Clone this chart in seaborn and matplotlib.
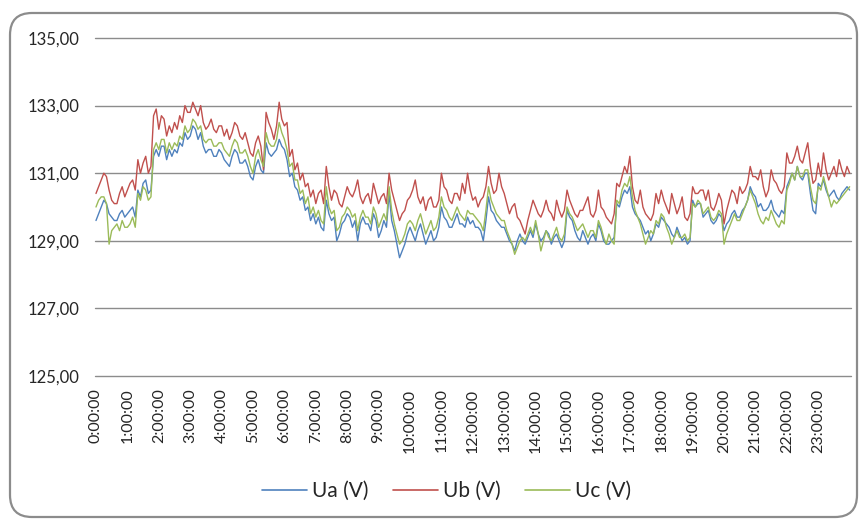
import matplotlib
matplotlib.use("Agg")
import matplotlib.pyplot as plt
from matplotlib.patches import FancyBboxPatch
from matplotlib.lines import Line2D
from matplotlib.transforms import IdentityTransform
import pandas as pd
import seaborn as sns

# Voltage readings every 5 minutes over one day (last value at 24:00)
hour_labels = [f"{h}:00:00" for h in range(24)]

ua = [
    129.6, 129.8, 130.0, 130.2, 130.1, 129.8, 129.7, 129.6, 129.6, 129.8, 129.9, 129.7,
    129.8, 129.9, 130.0, 129.7, 130.5, 130.3, 130.7, 130.8, 130.4, 130.5, 131.5, 131.7,
    131.5, 131.8, 131.8, 131.4, 131.7, 131.5, 131.7, 131.6, 131.9, 131.8, 132.2, 132.0,
    132.1, 132.4, 132.3, 132.0, 132.2, 131.8, 131.6, 131.7, 131.7, 131.5, 131.5, 131.7,
    131.6, 131.4, 131.3, 131.2, 131.5, 131.7, 131.6, 131.3, 131.3, 131.4, 131.2, 130.9,
    130.8, 131.2, 131.4, 131.1, 131.0, 131.9, 131.6, 131.5, 131.6, 131.7, 132.0, 131.8,
    131.7, 131.4, 130.9, 131.0, 130.6, 130.5, 130.2, 130.3, 129.9, 130.0, 129.6, 129.8,
    129.5, 129.7, 129.4, 129.3, 130.2, 129.8, 129.6, 129.7, 129.0, 129.2, 129.5, 129.6,
    129.8, 129.7, 129.4, 129.6, 129.0, 129.5, 129.7, 129.5, 129.5, 129.3, 129.8, 129.6,
    129.1, 129.3, 129.6, 129.4, 130.4, 129.6, 129.3, 128.9, 128.5, 128.7, 128.9, 129.2,
    129.4, 129.2, 129.0, 129.3, 129.5, 129.2, 128.9, 129.1, 129.3, 129.0, 129.1, 129.4,
    130.0, 129.7, 129.6, 129.4, 129.4, 129.6, 129.8, 129.5, 129.5, 129.4, 129.7, 129.5,
    129.6, 129.4, 129.4, 129.3, 129.0, 129.6, 130.3, 129.9, 129.8, 129.6, 129.5, 129.4,
    129.4, 129.2, 129.0, 128.9, 128.7, 129.0, 129.2, 129.0, 128.9, 129.1, 129.3, 129.1,
    129.5, 129.2, 129.0, 129.1, 129.3, 129.2, 128.9, 129.1, 129.2, 129.0, 128.8, 129.0,
    129.9, 129.7, 129.6, 129.3, 129.1, 129.0, 129.3, 129.1, 128.9, 129.1, 129.2, 129.0,
    129.5, 129.3, 129.0, 128.9, 128.9, 129.0, 129.1, 130.1, 130.0, 130.3, 130.5, 130.4,
    130.6, 130.0, 129.8, 129.7, 129.6, 129.4, 129.2, 129.3, 129.0, 129.2, 129.5, 129.4,
    129.7, 129.6, 129.5, 129.4, 129.2, 129.1, 129.4, 129.2, 129.0, 129.1, 128.9, 129.0,
    130.2, 130.0, 130.1, 130.1, 129.7, 129.8, 129.9, 129.6, 129.5, 129.6, 129.8, 129.7,
    129.3, 129.5, 129.6, 129.8, 129.9, 129.7, 129.7, 129.9, 130.0, 130.2, 130.6, 130.4,
    130.3, 130.0, 130.1, 129.9, 129.9, 130.0, 130.2, 129.9, 129.8, 129.7, 129.9, 129.8,
    130.6, 130.8, 131.0, 130.8, 131.2, 130.9, 130.8, 131.0, 131.0, 130.4, 129.9, 129.8,
    130.7, 130.6, 130.8, 130.5, 130.3, 130.4, 130.5, 130.3, 130.2, 130.4, 130.5, 130.6,
    130.5,
]

ub = [
    130.4, 130.6, 130.8, 131.0, 130.9, 130.5, 130.2, 130.1, 130.1, 130.4, 130.6, 130.3,
    130.5, 130.7, 130.8, 130.5, 131.4, 131.0, 131.3, 131.5, 131.0, 131.2, 132.7, 132.9,
    132.3, 132.7, 132.6, 132.1, 132.4, 132.2, 132.5, 132.3, 132.7, 132.5, 133.0, 132.8,
    132.8, 133.1, 132.9, 132.7, 133.0, 132.5, 132.3, 132.4, 132.6, 132.3, 132.2, 132.4,
    132.4, 132.1, 132.3, 132.0, 132.2, 132.5, 132.4, 132.1, 132.0, 132.2, 131.9, 131.6,
    131.5, 131.9, 132.1, 131.8, 131.1, 132.8, 132.5, 132.3, 132.0, 132.4, 133.1, 132.6,
    132.4, 132.5, 131.5, 131.7, 131.1, 131.3, 130.8, 131.0, 130.6, 130.7, 130.3, 130.5,
    130.1, 130.4, 130.5, 130.1, 131.2, 130.6, 130.2, 130.5, 130.4, 130.1, 130.0, 130.3,
    130.6, 130.4, 130.3, 130.5, 130.8, 130.3, 130.1, 130.3, 130.4, 130.1, 130.7, 130.4,
    130.1, 130.3, 130.4, 130.1, 131.0, 130.5, 130.2, 129.9, 129.6, 129.8, 129.9, 130.2,
    130.3, 130.5, 130.8, 130.3, 130.1, 130.3, 129.9, 130.2, 130.3, 130.0, 130.0, 130.2,
    131.0, 130.6, 130.5, 130.2, 130.1, 130.4, 130.4, 130.2, 130.7, 130.4, 131.0, 130.5,
    130.2, 130.3, 130.0, 130.2, 130.3, 130.6, 131.2, 130.7, 130.4, 130.5, 131.0, 130.6,
    130.4, 130.1, 129.8, 130.0, 130.1, 129.7, 129.6, 129.4, 129.2, 129.6, 129.9, 130.2,
    130.0, 129.8, 129.7, 129.9, 130.2, 129.9, 129.8, 129.6, 130.2, 129.9, 129.7, 129.9,
    130.5, 130.2, 130.0, 129.8, 129.7, 129.9, 129.9, 130.1, 130.3, 129.8, 129.7, 129.9,
    130.5, 130.0, 129.9, 129.7, 129.6, 129.5, 129.8, 130.7, 130.6, 130.9, 131.2, 131.0,
    131.5, 130.6, 130.2, 130.1, 130.5, 130.0, 129.8, 129.7, 129.6, 129.8, 130.4, 130.1,
    130.5, 130.2, 130.0, 129.8, 130.4, 130.1, 129.8, 130.0, 130.3, 129.7, 129.6, 129.8,
    130.6, 130.4, 130.4, 130.5, 130.5, 130.2, 130.5, 130.0, 129.9, 130.1, 130.4, 130.2,
    129.5, 129.9, 130.2, 130.5, 130.4, 130.1, 130.6, 130.4, 130.5, 130.7, 131.2, 130.9,
    130.9, 130.8, 131.1, 130.6, 130.3, 130.5, 131.1, 130.8, 130.7, 130.5, 130.4, 130.6,
    131.6, 131.3, 131.3, 131.5, 131.8, 131.4, 131.3, 131.6, 131.9, 131.2, 130.7, 130.8,
    131.3, 130.9, 131.6, 131.1, 130.8, 131.0, 131.2, 130.9, 131.4, 131.1, 130.9, 131.2,
    131.0,
]

uc = [
    130.0, 130.2, 130.3, 130.3, 130.1, 128.9, 129.3, 129.4, 129.5, 129.3, 129.6, 129.4,
    129.4, 129.5, 129.7, 129.4, 130.4, 130.2, 130.6, 130.5, 130.2, 130.3, 131.7, 131.9,
    131.7, 132.0, 132.0, 131.6, 131.9, 131.7, 131.9, 131.8, 132.1, 132.0, 132.4, 132.2,
    132.3, 132.6, 132.5, 132.3, 132.4, 132.0, 131.9, 132.0, 132.0, 131.8, 131.8, 131.9,
    131.9, 131.7, 131.6, 131.5, 131.8, 132.0, 131.9, 131.6, 131.6, 131.7, 131.5, 131.2,
    131.0, 131.5, 131.7, 131.4, 131.2, 132.2, 131.9, 131.8, 131.8, 132.0, 132.5, 132.2,
    132.0, 131.7, 131.2, 131.3, 130.8, 130.8, 130.4, 130.5, 130.1, 130.3, 129.8, 130.0,
    129.7, 129.9, 129.6, 129.5, 130.6, 130.0, 129.8, 129.9, 129.3, 129.4, 129.7, 129.8,
    130.0, 129.9, 129.7, 129.8, 129.3, 129.7, 129.9, 129.7, 129.7, 129.5, 130.0, 129.8,
    129.4, 129.6, 129.8, 129.6, 130.6, 129.9, 129.5, 129.2, 128.9, 129.0, 129.2, 129.5,
    129.6, 129.5, 129.3, 129.6, 129.8, 129.5, 129.2, 129.4, 129.6, 129.3, 129.4, 129.7,
    130.3, 130.0, 129.9, 129.7, 129.6, 129.8, 130.0, 129.8, 129.7, 129.6, 129.9, 129.8,
    129.8, 129.7, 129.6, 129.5, 129.3, 129.9, 130.6, 130.2, 130.0, 129.8, 129.7, 129.6,
    129.6, 129.3, 129.1, 128.9, 128.6, 128.8, 129.0, 129.1, 129.0, 129.2, 129.4, 129.2,
    129.6, 129.2, 128.7, 129.0, 129.3, 129.1, 129.0, 129.2, 129.4, 129.1, 129.0, 129.2,
    130.0, 129.8, 129.7, 129.5, 129.3, 129.4, 129.5, 129.3, 129.1, 129.3, 129.3, 129.1,
    129.6, 129.4, 129.1, 128.9, 129.2, 129.0, 128.9, 130.2, 130.1, 130.5, 130.7, 130.6,
    130.9, 130.3, 129.9, 129.7, 129.5, 129.2, 128.9, 129.1, 129.3, 129.2, 129.6, 129.5,
    129.8, 129.7, 129.4, 129.2, 128.9, 129.1, 129.3, 129.1, 129.1, 129.2, 129.0, 129.1,
    130.1, 130.0, 130.2, 130.1, 129.8, 129.9, 130.0, 129.7, 129.6, 129.7, 129.9, 129.8,
    128.9, 129.2, 129.4, 129.6, 129.8, 129.6, 129.6, 129.8, 130.0, 130.2, 130.5, 130.3,
    130.1, 129.8, 129.6, 129.5, 129.7, 129.6, 129.9, 129.7, 129.5, 129.4, 129.6, 129.5,
    130.5, 130.7, 131.0, 130.8, 131.2, 130.9, 130.9, 131.1, 131.1, 130.6, 130.2, 130.1,
    130.6, 130.5, 130.9, 130.6, 130.3, 130.0, 130.2, 130.1, 130.2, 130.3, 130.4, 130.5,
    130.6,
]

series_names = ["Ua (V)", "Ub (V)", "Uc (V)"]
series_colors = ["#4F81BD", "#C0504D", "#9BBB59"]
y_ticks = [125, 127, 129, 131, 133, 135]
steps_per_hour = 12

frames = []
for name, vals in zip(series_names, [ua, ub, uc]):
    frames.append(pd.DataFrame({"step": range(len(vals)), "value": vals, "series": name}))
df = pd.concat(frames, ignore_index=True)

sns.set_theme(style="white")
plt.rcParams["font.family"] = ["Lato", "DejaVu Sans"]

W, H = 861, 520
fig = plt.figure(figsize=(W / 100, H / 100), dpi=100)
fig.patch.set_facecolor("white")

left, right, top, bottom = 94.5, 850.7, 38, 376
ax = fig.add_axes([left / W, 1 - bottom / H, (right - left) / W, (bottom - top) / H])

for v in y_ticks:
    ax.axhline(v, color="#8c8c8c", lw=1.0, zorder=0, clip_on=False)

sns.lineplot(
    data=df, x="step", y="value", hue="series",
    palette=dict(zip(series_names, series_colors)),
    hue_order=series_names, linewidth=1.0, estimator=None,
    sort=False, legend=False, ax=ax,
)

ax.set_xlim(-0.57, 288.4)
ax.set_ylim(125, 135)
for s in ax.spines.values():
    s.set_visible(False)
ax.set_xlabel("")
ax.set_ylabel("")

ax.set_xticks(range(0, 24 * steps_per_hour, steps_per_hour))
ax.set_xticklabels(hour_labels, rotation=90, fontsize=11.5, color="#262626")
ax.set_yticks(y_ticks)
ax.set_yticklabels([f"{v},00" for v in y_ticks], fontsize=12, color="#262626")
ax.tick_params(axis="x", length=0, pad=9)
ax.tick_params(axis="y", length=0, pad=11)

handles = [Line2D([], [], color=c, lw=1.2) for c in series_colors]
fig.legend(
    handles, series_names, loc="center", ncol=3,
    bbox_to_anchor=(446.5 / W, 1 - 491 / H), frameon=False,
    fontsize=15, handlelength=2.16, handletextpad=0.25,
    columnspacing=1.15, labelcolor="#262626",
)

border = FancyBboxPatch(
    (10, 3), 847, 504, boxstyle="round,pad=0,rounding_size=22",
    transform=IdentityTransform(), facecolor="none",
    edgecolor="#8c8c8c", linewidth=1.6, zorder=10,
)
fig.patches.append(border)

fig.savefig("out.png", dpi=100)
